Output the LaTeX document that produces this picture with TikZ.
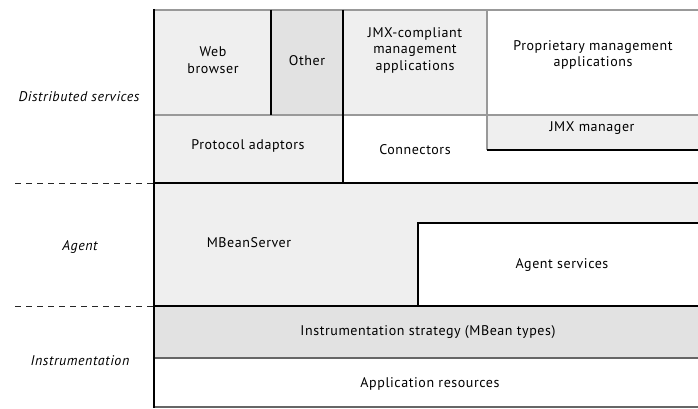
\documentclass[tikz,border=0pt]{standalone}
\usepackage{fontspec}
\setmainfont[LetterSpace=4]{PT Sans}
\begin{document}
\begin{tikzpicture}[x=1pt,y=-1pt,
  lbl/.style={font=\fontsize{14}{16.5}\selectfont, align=center, inner sep=0pt},
  layer/.style={font=\fontsize{14}{16.5}\selectfont\itshape, inner sep=0pt},
  boundary/.style={dashed, dash pattern=on 6pt off 5pt, line width=1pt, black!85},
  thin/.style={line width=1.2pt, black!40},
  thick/.style={line width=2pt, black},
  midgray/.style={line width=1.2pt, black!60}]
\useasboundingbox (0,0) rectangle (698,409);
\definecolor{paleA}{HTML}{EFEFEF}
\definecolor{paleB}{HTML}{E2E2E2}

% fills
\fill[paleA] (154,10) rectangle (271,115);   % web browser
\fill[paleB] (271,10) rectangle (343,115);   % other
\fill[paleA] (154,115) rectangle (343,183);  % protocol adaptors
\fill[paleA] (343,10) rectangle (487,115);   % jmx-compliant apps
\fill[white] (487,10) rectangle (700,115);   % proprietary apps
\fill[white] (343,115) rectangle (700,183);  % connectors
\fill[paleA] (487,115) rectangle (700,150);  % jmx manager
\fill[paleA] (154,183) rectangle (700,306);  % agent layer
\fill[white] (418,223) rectangle (700,306);  % agent services
\fill[paleB] (154,306) rectangle (700,358);  % instrumentation strategy
\fill[white] (154,358) rectangle (700,407);  % application resources

% outlines
\draw[thin] (154,10) -- (700,10);
\draw[thin] (154,115) -- (700,115);
\draw[thin] (487,10) -- (487,150);
\draw[thick] (487,150) -- (700,150);
\draw[thick] (271,10) -- (271,115);
\draw[thick] (343,10) -- (343,183);
\draw[thick] (154,183) -- (700,183);
\draw[thick] (418,306) -- (418,223) -- (700,223);
\draw[thick] (154,306) -- (700,306);
\draw[midgray] (154,358) -- (700,358);
\draw[midgray] (154,407) -- (700,407);
\draw[thick] (154,9) -- (154,408);

% layer boundaries
\coordinate (b1s) at (15,183);
\coordinate (b1e) at (154,183);
\coordinate (b2s) at (15,306);
\coordinate (b2e) at (154,306);
\draw[boundary] (b1s) -- (b1e);
\draw[boundary] (b2s) -- (b2e);

% layer names
\node[layer] (ds) at (79,97) {Distributed services};
\node[layer] (ag) at (80,247) {Agent};
\node[layer] (in) at (80,361) {Instrumentation};

% component labels
\node[lbl] (web) at (213,60) {Web\\browser};
\node[lbl] (oth) at (307,61) {Other};
\node[lbl] (jmxc) at (415,50) {JMX-compliant\\management\\applications};
\node[lbl] (prop) at (593,55) {Proprietary management\\applications};
\node[lbl] (pa) at (248,146) {Protocol adaptors};
\node[lbl] (con) at (415,150) {Connectors};
\node[lbl] (mgr) at (592,128) {JMX manager};
\node[lbl] (mbs) at (249,243) {MBeanServer};
\node[lbl] (asv) at (562,265) {Agent services};
\node[lbl] (ist) at (428,332) {Instrumentation strategy (MBean types)};
\node[lbl] (res) at (430,384) {Application resources};
\end{tikzpicture}
\end{document}
